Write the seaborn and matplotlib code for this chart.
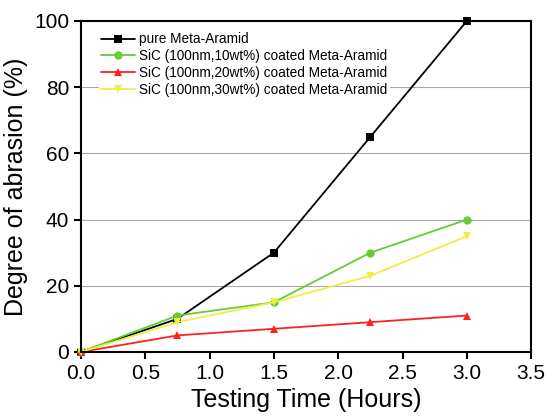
import numpy as np
import pandas as pd
import matplotlib
matplotlib.use("Agg")
import matplotlib.pyplot as plt
import seaborn as sns

# values
time_h = [0.0, 0.75, 1.5, 2.25, 3.0]
pure = [0, 10, 30, 65, 100]
sic_10 = [0, 11, 15, 30, 40]
sic_20 = [0, 5, 7, 9, 11]
sic_30 = [0, 9, 15, 23, 35]

labels = ["pure Meta-Aramid",
          "SiC (100nm,10wt%) coated Meta-Aramid",
          "SiC (100nm,20wt%) coated Meta-Aramid",
          "SiC (100nm,30wt%) coated Meta-Aramid"]
colors = ["black", "#66cc33", "#ff2020", "#eeee44"]
markers = ["s", "o", "^", "v"]

df = pd.DataFrame({"time": time_h * 4,
                   "abrasion": pure + sic_10 + sic_20 + sic_30,
                   "sample": np.repeat(labels, len(time_h))})

sns.set_style("white")
plt.rcParams["font.family"] = ["Liberation Sans", "DejaVu Sans"]
plt.rcParams.update({"text.color": "black", "axes.labelcolor": "black",
                     "xtick.color": "black", "ytick.color": "black"})

fig = plt.figure(figsize=(5.47, 4.20), dpi=100)
ax = fig.add_axes([0.148, 0.162, 0.823, 0.788])

ax.yaxis.grid(True, color="#aaaaaa", linewidth=0.8)
ax.set_axisbelow(True)

sns.lineplot(data=df, x="time", y="abrasion", hue="sample", style="sample",
             palette=colors, markers=markers, dashes=False, markersize=6,
             markeredgewidth=0, linewidth=1.3, ax=ax, clip_on=False)

ax.set_xlim(0, 3.5)
ax.set_ylim(0, 100)
ax.set_xticks(np.arange(0, 3.51, 0.5))
ax.set_yticks([0, 20, 40, 60, 80, 100])
ax.set_xticklabels([f"{v:.1f}" for v in np.arange(0, 3.51, 0.5)])
ax.tick_params(axis="both", direction="out", length=5, width=1.5,
               labelsize=15, bottom=True, left=True, colors="black")
for s in ax.spines.values():
    s.set_color("black")
    s.set_linewidth(1.5)

ax.set_xlabel("Testing Time (Hours)", fontsize=18)
ax.set_ylabel("Degree of abrasion (%)", fontsize=18)

# white box without border hides the grid behind the legend
leg = ax.legend(loc="upper left", bbox_to_anchor=(0.027, 0.99), fontsize=9.8,
                frameon=True, facecolor="white", edgecolor="none",
                framealpha=1, fancybox=False, borderpad=0.2,
                handlelength=2.5, labelspacing=0.2,
                borderaxespad=0.4, handletextpad=0.3)

fig.savefig("out.png", dpi=100)
